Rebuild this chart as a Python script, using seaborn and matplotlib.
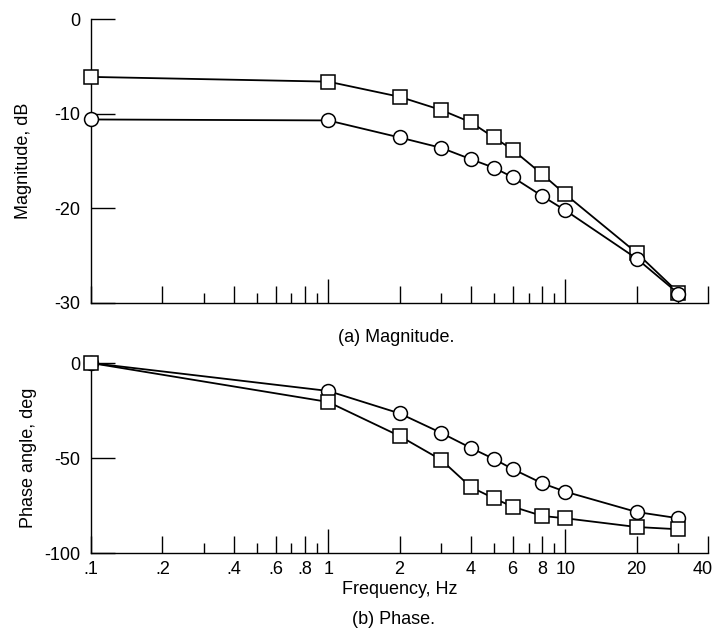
import seaborn as sns
import matplotlib.pyplot as plt
import matplotlib.transforms as mtransforms
import pandas as pd

# data
freq = [0.1, 1, 2, 3, 4, 5, 6, 8, 10, 20, 30]
mag_square = [-6.1, -6.6, -8.2, -9.6, -10.9, -12.5, -13.8, -16.4, -18.5, -24.7, -28.9]
mag_circle = [-10.6, -10.7, -12.5, -13.6, -14.8, -15.7, -16.7, -18.7, -20.2, -25.3, -29.0]
phase_square = [0, -20.5, -38.4, -51, -65.3, -71.2, -75.6, -80.5, -81.7, -86.3, -87.5]
phase_circle = [0, -14.7, -26.5, -36.8, -44.7, -50.5, -55.8, -63.3, -67.7, -78.4, -81.7]

major_x = [0.1, 0.2, 0.4, 0.6, 0.8, 1, 2, 4, 6, 8, 10, 20, 40]
major_lbl = ['.1', '.2', '.4', '.6', '.8', '1', '2', '4', '6', '8', '10', '20', '40']
minor_x = [0.3, 0.5, 0.7, 0.9, 3, 5, 7, 9, 30]

df = pd.DataFrame({'freq': freq, 'mag_sq': mag_square, 'mag_ci': mag_circle,
                   'ph_sq': phase_square, 'ph_ci': phase_circle})

sns.set_theme(style="white")
plt.rcParams['font.family'] = ['Liberation Sans', 'DejaVu Sans']
plt.rcParams['axes.edgecolor'] = 'black'
plt.rcParams['axes.labelcolor'] = 'black'
plt.rcParams['text.color'] = 'black'
plt.rcParams['xtick.color'] = 'black'
plt.rcParams['ytick.color'] = 'black'

fig = plt.figure(figsize=(7.14, 6.4), dpi=100)
ax1 = fig.add_axes([0.1275, 0.5266, 0.8641, 0.4434])
ax2 = fig.add_axes([0.1275, 0.1359, 0.8641, 0.2969])

mk = dict(color='black', linewidth=1.3, markersize=10, markerfacecolor='white',
          markeredgecolor='black', markeredgewidth=1.1, clip_on=False, zorder=3)


def style_axis(ax, ymin, yticks, show_labels):
    ax.set_xscale('log')
    ax.set_xlim(0.1, 40)
    ax.set_ylim(ymin, 0)
    sns.despine(ax=ax)
    for s in ['left', 'bottom']:
        ax.spines[s].set_linewidth(1.0)
    ax.set_xticks(major_x)
    ax.set_xticks(minor_x, minor=True)
    ax.set_xticklabels(major_lbl if show_labels else [])
    ax.tick_params(axis='x', which='major', direction='in', length=12, width=1.0,
                   labelsize=13, pad=6, bottom=True)
    ax.tick_params(axis='x', which='minor', direction='in', length=7.5, width=1.0,
                   bottom=True)
    # longer ticks at 1 and 10
    for i, t in enumerate(ax.xaxis.get_major_ticks()):
        if major_x[i] in (1, 10):
            t.tick1line.set_markersize(17)
    ax.set_yticks(yticks)
    ax.set_yticklabels([str(v) for v in yticks])
    ax.tick_params(axis='y', direction='in', length=17, width=1.0, labelsize=13,
                   pad=8, left=True)
    ax.set_xlabel('')


sns.lineplot(data=df, x='freq', y='mag_sq', marker='s', ax=ax1, **mk)
sns.lineplot(data=df, x='freq', y='mag_ci', marker='o', ax=ax1, **mk)
style_axis(ax1, -30, [0, -10, -20, -30], False)
ax1.set_ylabel('Magnitude, dB', fontsize=13, labelpad=16)

sns.lineplot(data=df, x='freq', y='ph_ci', marker='o', ax=ax2, **mk)
sns.lineplot(data=df, x='freq', y='ph_sq', marker='s', ax=ax2, **mk)
style_axis(ax2, -100, [0, -50, -100], True)
ax2.set_ylabel('Phase angle, deg', fontsize=13, labelpad=5)
ax2.set_xlabel('Frequency, Hz', fontsize=13, labelpad=2)

# keep the "40" label inside the figure
last = ax2.get_xticklabels()[-1]
last.set_horizontalalignment('right')
last.set_transform(last.get_transform() +
                   mtransforms.ScaledTranslation(5 / 100, 0, fig.dpi_scale_trans))

fig.text(0.555, 1 - 337 / 640, '(a) Magnitude.', ha='center', va='center', fontsize=13)
fig.text(0.551, 1 - 620 / 640, '(b) Phase.', ha='center', va='center', fontsize=13)

plt.savefig('out.png', dpi=100)
